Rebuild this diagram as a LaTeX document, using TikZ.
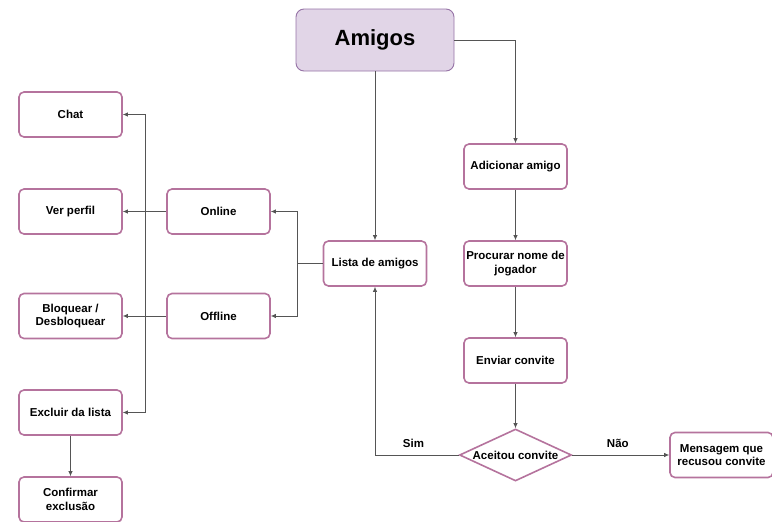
\documentclass[tikz,border=0pt]{standalone}
\usepackage{fontspec}
\setmainfont{Liberation Sans}
\usetikzlibrary{arrows.meta,shapes.geometric}
\definecolor{boxline}{HTML}{B5739D}
\definecolor{topfill}{HTML}{E1D5E7}
\definecolor{topline}{HTML}{9673A6}
\definecolor{wire}{HTML}{555555}
\tikzset{
  stepbox/.style={draw=boxline, line width=1.6pt, fill=white, rounded corners=5pt,
    minimum width=103pt, minimum height=45pt, inner sep=1pt, align=center,
    font=\fontsize{11.5}{13.5}\selectfont\bfseries},
  topbox/.style={draw=topline, line width=0.9pt, fill=topfill, rounded corners=8pt,
    minimum width=158pt, minimum height=62pt, font=\fontsize{22}{26}\selectfont\bfseries},
  decision/.style={diamond, draw=boxline, line width=1.6pt, fill=white,
    minimum width=112pt, minimum height=52pt, inner sep=0pt},
  wirelabel/.style={font=\fontsize{11.5}{13.5}\selectfont\bfseries},
  link/.style={draw=wire, line width=0.8pt, -{Latex[length=5pt,width=4.5pt]}},
  plain/.style={draw=wire, line width=0.8pt}
}
\begin{document}
\begin{tikzpicture}[x=1pt,y=-1pt]
\useasboundingbox (0,0) rectangle (772,522);

\node[topbox] (amigos) at (375,40) {Amigos};

\node[stepbox] (chat)    at (70.5,114.5) {Chat};
\node[stepbox] (perfil)  at (70.5,211.5) {Ver perfil};
\node[stepbox] (bloq)    at (70.5,316)   {Bloquear /\\Desbloquear};
\node[stepbox] (excluir) at (70.5,412.5) {Excluir da lista};
\node[stepbox] (confirm) at (70.5,499.5) {Confirmar\\exclusão};

\node[stepbox] (online)  at (218.5,211.5) {Online};
\node[stepbox] (offline) at (218.5,316)   {Offline};

\node[stepbox] (lista)   at (375,263.5) {Lista de amigos};

\node[stepbox] (add)     at (515.5,166.5) {Adicionar amigo};
\node[stepbox] (busca)   at (515.5,263.5) {Procurar nome de\\jogador};
\node[stepbox] (enviar)  at (515.5,360.5) {Enviar convite};
\node[decision, label={[wirelabel]center:Aceitou convite}] (aceitou) at (515.5,455) {};
\node[stepbox] (msg)     at (721.5,455) {Mensagem que\\recusou convite};

% main branches
\draw[link] (amigos.south) -- (lista.north);
\draw[link] (amigos.east) -| (add.north);

% friend list split
\coordinate (split) at (297,263.5);
\draw[plain] (lista.west) -- (split);
\draw[link] (split) |- (online.east);
\draw[link] (split) |- (offline.east);

% actions for online and offline friends share one vertical bus
\coordinate (onsplit) at (145,211.5);
\coordinate (offsplit) at (145,316);
\draw[plain] (online.west) -- (onsplit);
\draw[plain] (offline.west) -- (offsplit);
\draw[plain] (onsplit) -- (offsplit);
\draw[link] (onsplit) |- (chat.east);
\draw[link] (onsplit) -- (perfil.east);
\draw[link] (offsplit) -- (bloq.east);
\draw[link] (offsplit) |- (excluir.east);

\draw[link] (excluir.south) -- (confirm.north);

% invitation flow
\draw[link] (add.south) -- (busca.north);
\draw[link] (busca.south) -- (enviar.north);
\draw[link] (enviar.south) -- (aceitou.north);
\draw[link] (aceitou.west) -| node[wirelabel, pos=0.27, above=4pt] {Sim} (lista.south);
\draw[link] (aceitou.east) -- node[wirelabel, pos=0.47, above=4pt] {Não} (msg.west);
\end{tikzpicture}
\end{document}
